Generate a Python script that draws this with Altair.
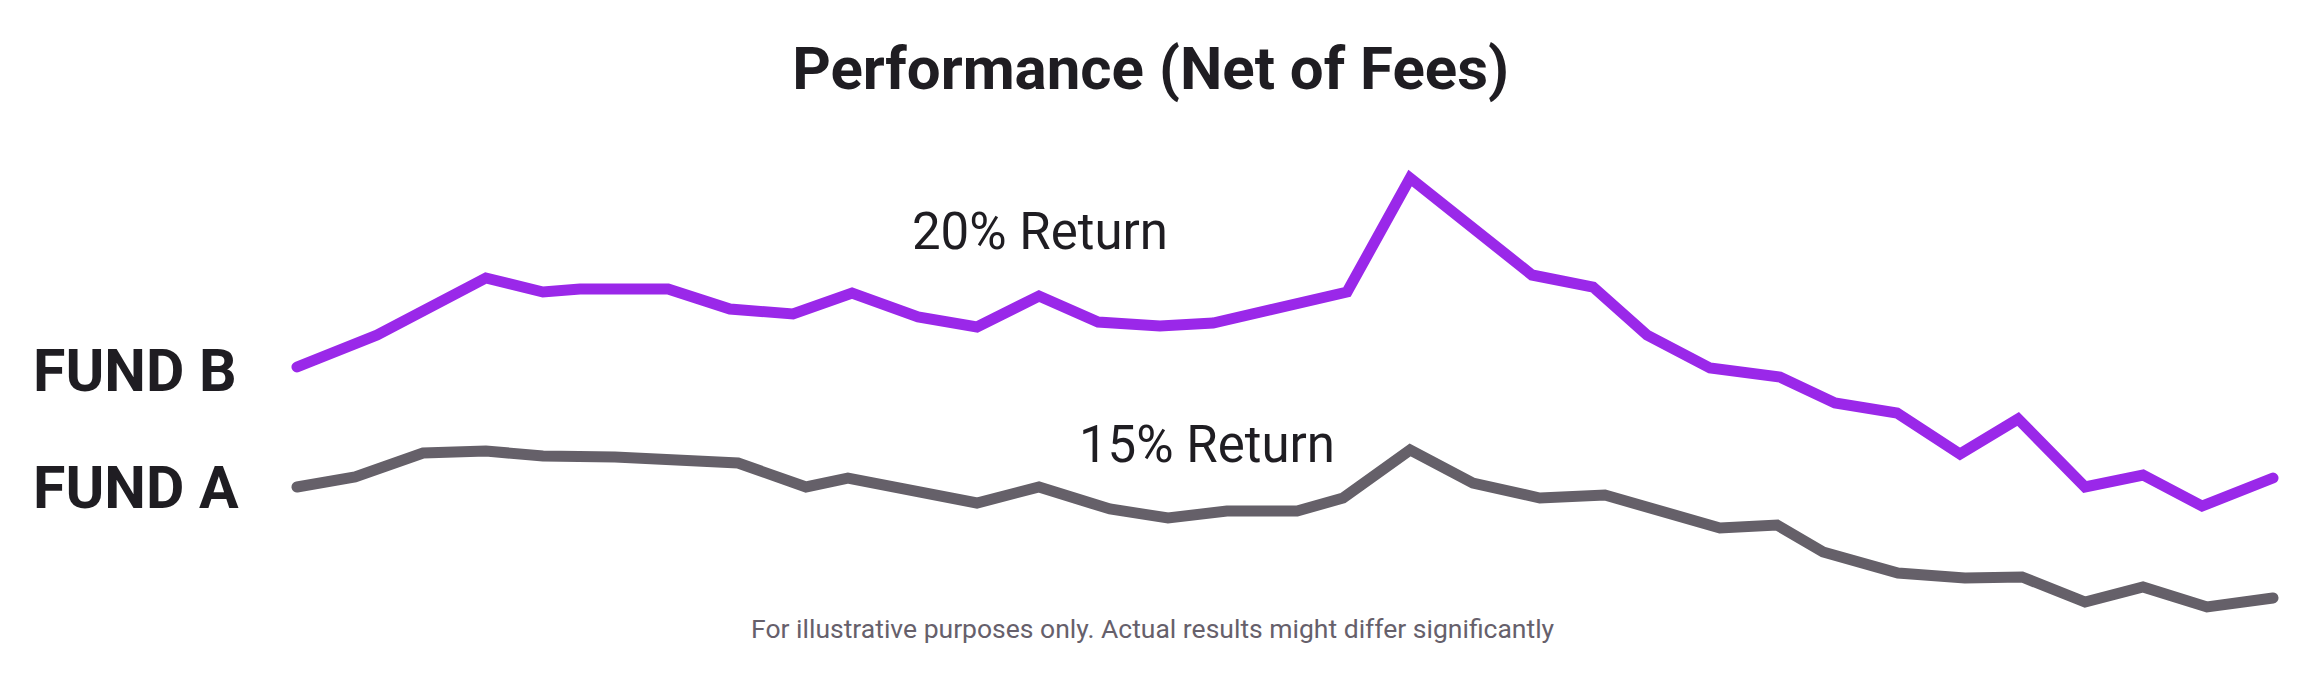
import altair as alt
import pandas as pd

# ---- data ----
fund_b_t = [0, 4.05, 9.56, 12.45, 14.32, 18.78, 21.91, 25.10, 28.09, 31.43, 34.41, 37.55,
            40.54, 43.67, 46.36, 53.14, 56.33, 62.50, 65.59, 68.32, 71.51, 75.05, 77.83,
            80.97, 84.16, 87.10, 90.49, 93.42, 96.41, 100]
fund_b_v = [63.25, 71.25, 85.5, 82.0, 82.75, 82.75, 77.75, 76.5, 81.75, 75.75, 73.25, 81.0,
            74.5, 73.5, 74.25, 82.0, 110.5, 86.25, 83.25, 71.25, 63.0, 60.75, 54.25,
            51.75, 41.5, 50.25, 33.25, 36.25, 28.5, 35.5]

fund_a_t = [0, 2.94, 6.38, 9.56, 12.45, 16.09, 22.32, 25.76, 27.88, 34.41, 37.55, 41.14,
            44.08, 47.06, 50.61, 52.94, 56.33, 59.51, 62.90, 66.19, 72.01, 74.90, 77.23,
            81.02, 84.41, 87.30, 90.49, 93.42, 96.66, 100]
fund_a_v = [33.25, 35.75, 41.75, 42.25, 41.0, 40.75, 39.25, 33.25, 35.5, 29.25, 33.25, 27.75,
            25.5, 27.25, 27.25, 30.5, 42.5, 34.25, 30.5, 31.25, 23.0, 23.75, 17.0,
            11.75, 10.5, 10.75, 4.5, 8.25, 3.25, 5.5]

series_names = ["Fund B", "Fund A"]
series_colors = ["#9A28E9", "#656069"]

title_text = "Performance (Net of Fees)"
footnote_text = "For illustrative purposes only. Actual results might differ significantly"
fund_labels = ["FUND B", "FUND A"]
fund_label_t = [-13.36, -13.36]
fund_label_v = [57.25, 28.0]
return_labels = ["20% Return", "15% Return"]
return_label_t = [37.6, 46.05]
return_label_v = [92.75, 39.5]

x_domain = [-14.625, 102.075]
y_domain = [-15.5, 153]

# ---- tables ----
lines = pd.concat([
    pd.DataFrame({"t": fund_b_t, "v": fund_b_v, "fund": "Fund B"}),
    pd.DataFrame({"t": fund_a_t, "v": fund_a_v, "fund": "Fund A"}),
])
fund_df = pd.DataFrame({"t": fund_label_t, "v": fund_label_v, "label": fund_labels})
ret_df = pd.DataFrame({"t": return_label_t, "v": return_label_v, "label": return_labels})
title_df = pd.DataFrame({"t": [43.2], "v": [132.75], "label": [title_text]})
foot_df = pd.DataFrame({"t": [43.3], "v": [-4.5], "label": [footnote_text]})

X = alt.X("t:Q", scale=alt.Scale(domain=x_domain, nice=False, zero=False), axis=None)
Y = alt.Y("v:Q", scale=alt.Scale(domain=y_domain, nice=False, zero=False), axis=None)

line_layer = alt.Chart(lines).mark_line(
    strokeWidth=11, strokeCap="round", strokeJoin="miter"
).encode(
    x=X, y=Y,
    color=alt.Color("fund:N", scale=alt.Scale(domain=series_names, range=series_colors), legend=None),
    detail="fund:N",
)

fund_layer = alt.Chart(fund_df).mark_text(
    align="left", baseline="alphabetic", font="Roboto", fontWeight="bold",
    fontSize=59, color="#1F1D22"
).encode(x=X, y=Y, text="label:N")

ret_layer = alt.Chart(ret_df).mark_text(
    align="center", baseline="alphabetic", font="Roboto", fontWeight="normal",
    fontSize=51, color="#1F1D22"
).encode(x=X, y=Y, text="label:N")

title_layer = alt.Chart(title_df).mark_text(
    align="center", baseline="alphabetic", font="Roboto", fontWeight="bold",
    fontSize=60, color="#1F1D22"
).encode(x=X, y=Y, text="label:N")

foot_layer = alt.Chart(foot_df).mark_text(
    align="center", baseline="alphabetic", font="Roboto",
    fontSize=26.5, color="#66606B"
).encode(x=X, y=Y, text="label:N")

chart = alt.layer(line_layer, fund_layer, ret_layer, title_layer, foot_layer).properties(
    width=2306, height=674, padding=0, autosize=alt.AutoSizeParams(type="none"),
    background="white",
).configure_view(stroke=None)

chart.save("out.html", embed_options={"renderer": "svg", "actions": False})
